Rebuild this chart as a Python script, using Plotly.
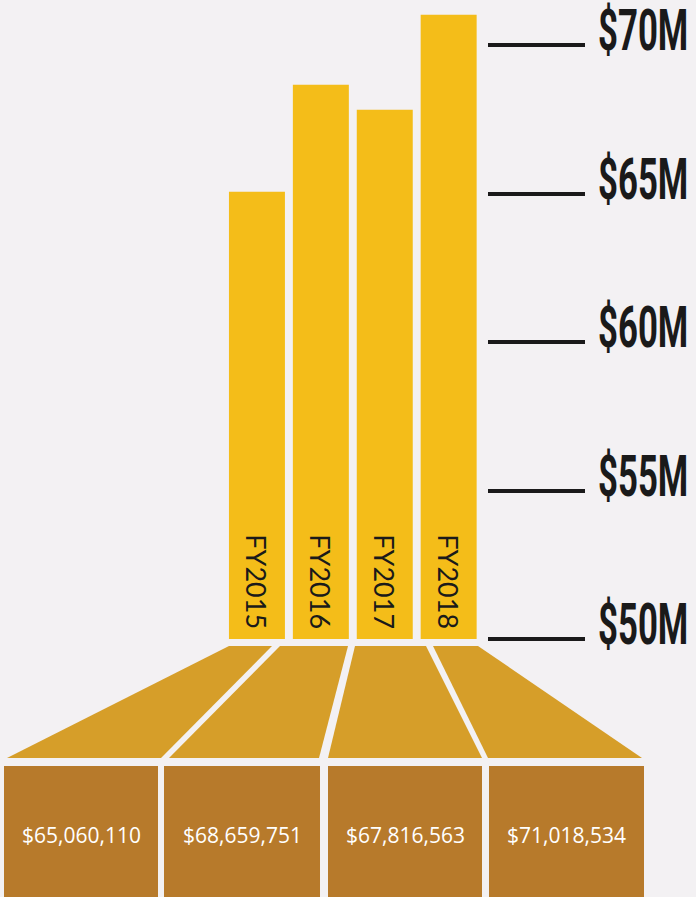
import plotly.graph_objects as go

# data
years = ["FY2015", "FY2016", "FY2017", "FY2018"]
budget = [65060110, 68659751, 67816563, 71018534]
tick_vals = [50, 55, 60, 65, 70]
tick_text = ["$50M", "$55M", "$60M", "$65M", "$70M"]

W, H = 696, 897
bg = "#f3f1f3"
gold = "#f4bd19"
mid = "#d69e29"
dark = "#b77a2b"

fig = go.Figure()
fig.add_trace(go.Bar(
    x=list(range(len(years))),
    y=[v / 1e6 - 50 for v in budget],
    base=50,
    marker=dict(color=gold, line=dict(width=0)),
    text=[y + "\u00a0" for y in years],
    textposition="inside",
    insidetextanchor="start",
    textangle=90,
    textfont=dict(family="Lato, Noto Sans, sans-serif", size=27, color="#1a1a1a"),
    hoverinfo="skip",
))

# funnel pieces under the bars (pixel geometry of the infographic)
trap_top = [(229, 272), (280, 348), (355, 426), (433, 478)]
trap_bot = [(7, 161), (169, 319), (328, 482), (488, 642)]
boxes = [(4, 158), (164, 320), (328, 482), (489, 644)]
py = lambda p: 1 - p / H
px = lambda p: p / W
shapes = []
for (a, b), (c, d) in zip(trap_top, trap_bot):
    path = (f"M {px(a)} {py(646)} L {px(b)} {py(646)} "
            f"L {px(d)} {py(758)} L {px(c)} {py(758)} Z")
    shapes.append(dict(type="path", path=path, xref="paper", yref="paper",
                       fillcolor=mid, line=dict(width=0), layer="below"))
annotations = []
for (a, b), v in zip(boxes, budget):
    shapes.append(dict(type="rect", xref="paper", yref="paper",
                       x0=px(a), x1=px(b), y0=py(H + 2), y1=py(766),
                       fillcolor=dark, line=dict(width=0), layer="below"))
    annotations.append(dict(x=px((a + b) / 2), y=py(835), xref="paper", yref="paper",
                            text=f"${v:,}", showarrow=False, xanchor="center", yanchor="middle",
                            font=dict(family="Open Sans, sans-serif", size=21, color="white")))

# axis labels sit above the tick line, in a condensed bold face
for tv, tt in zip(tick_vals, tick_text):
    annotations.append(dict(x=px(596), y=tv, xref="paper", yref="y", text=tt,
                            showarrow=False, xanchor="left", yanchor="middle", yshift=15,
                            font=dict(family="Roboto, sans-serif", size=44, weight=700,
                                      color="#1a1a1a")))

fig.update_layout(
    width=W, height=H,
    margin=dict(l=0, r=0, t=0, b=0),
    paper_bgcolor=bg, plot_bgcolor=bg,
    showlegend=False,
    bargap=0.124,
    shapes=shapes,
    annotations=annotations,
    xaxis=dict(domain=[225 / W, 487 / W], range=[-0.5, 3.6], visible=False, fixedrange=True),
    yaxis=dict(domain=[258 / H, 1], range=[50, 50 + 639 / 29.7], side="right",
               tickvals=tick_vals, showticklabels=False, ticks="outside", ticklen=97,
               tickwidth=4, tickcolor="#1a1a1a", showgrid=False, zeroline=False,
               showline=False, fixedrange=True),
)

js = """
document.body.style.margin='0';document.body.style.background='%s';
(function(){function f(){document.querySelectorAll('text.annotation-text').forEach(function(t){
 if(/^\\$\\d+M$/.test(t.textContent)){t.style.transformBox='fill-box';t.style.transformOrigin='left center';t.style.transform='scale(0.79,1.32)';}});}
 f();setTimeout(f,30);setTimeout(f,300);})();
""" % bg

fig.write_html("out.html", config={"displayModeBar": False}, post_script=js)
